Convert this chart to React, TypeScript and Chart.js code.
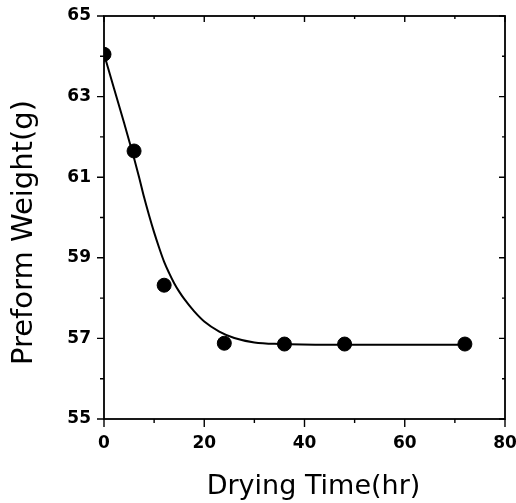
import React, { useEffect, useRef } from "react";
import { Chart, registerables } from "chart.js";

Chart.register(...registerables);

// Measured data points
const dryingTime = [0, 6, 12, 24, 36, 48, 72];
const preformWeight = [64.05, 61.65, 58.32, 56.88, 56.86, 56.86, 56.86];

// Fitted curve
const fitTime = [0, 2, 4, 6, 7, 8, 9, 10, 11, 12, 13, 14, 15, 16, 18, 20, 23, 26, 30, 35, 45, 60, 72];
const fitWeight = [64.06, 63.2, 62.35, 61.47, 61.0, 60.5, 60.05, 59.63, 59.25, 58.9, 58.62, 58.37, 58.16, 57.98, 57.67, 57.42, 57.17, 57.01, 56.9, 56.86, 56.84, 56.84, 56.84];

const xMin = 0;
const xMax = 80;
const xStep = 10;
const xLabelEvery = 20;
const yMin = 55;
const yMax = 65;
const yStep = 1;
const yLabelEvery = 2;

const xTitle = "Drying Time(hr)";
const yTitle = "Preform Weight(g)";

const FONT = "'DejaVu Sans', 'Liberation Sans', Arial, sans-serif";

const isMajor = (v: number, every: number, base: number) =>
  Math.abs(((v - base) / every) - Math.round((v - base) / every)) < 1e-6;

const frameTicks = {
  id: "frameTicks",
  afterDraw(chart: any) {
    const { ctx, chartArea } = chart;
    const { left, right, top, bottom } = chartArea;
    const xs = chart.scales.x;
    const ys = chart.scales.y;
    ctx.save();
    ctx.strokeStyle = "#000";
    ctx.lineWidth = 1.8;
    ctx.strokeRect(left, top, right - left, bottom - top);
    ctx.lineWidth = 1.4;
    ctx.beginPath();
    xs.ticks.forEach((t: any) => {
      const px = xs.getPixelForValue(t.value);
      const maj = isMajor(t.value, xLabelEvery, xMin);
      ctx.moveTo(px, bottom);
      ctx.lineTo(px, bottom + (maj ? 8 : 4));
      ctx.moveTo(px, top);
      ctx.lineTo(px, top + (maj ? 6 : 3));
    });
    ys.ticks.forEach((t: any) => {
      const py = ys.getPixelForValue(t.value);
      const maj = isMajor(t.value, yLabelEvery, yMin);
      ctx.moveTo(left, py);
      ctx.lineTo(left - (maj ? 7 : 4), py);
      ctx.moveTo(right, py);
      ctx.lineTo(right - (maj ? 6 : 3), py);
    });
    ctx.stroke();

    // axis titles
    ctx.fillStyle = "#000";
    ctx.textAlign = "center";
    ctx.textBaseline = "alphabetic";
    ctx.font = `27px ${FONT}`;
    ctx.fillText(xTitle, (left + right) / 2 + 9, 494);
    ctx.save();
    ctx.translate(32, (top + bottom) / 2 + 15);
    ctx.rotate(-Math.PI / 2);
    ctx.font = `29px ${FONT}`;
    ctx.fillText(yTitle, 0, 0);
    ctx.restore();
    ctx.restore();
  },
};

export default function App() {
  const ref = useRef<HTMLCanvasElement | null>(null);

  useEffect(() => {
    document.body.style.margin = "0";
    if (!ref.current) return;
    const chart = new Chart(ref.current, {
      type: "scatter",
      data: {
        datasets: [
          {
            type: "line",
            label: "fit",
            data: fitTime.map((x, i) => ({ x, y: fitWeight[i] })),
            borderColor: "#000",
            borderWidth: 2,
            pointRadius: 0,
            cubicInterpolationMode: "monotone",
            fill: false,
            order: 2,
          } as any,
          {
            type: "scatter",
            label: "data",
            data: dryingTime.map((x, i) => ({ x, y: preformWeight[i] })),
            backgroundColor: "#000",
            borderColor: "#000",
            pointRadius: 7,
            pointHoverRadius: 7,
            order: 1,
          },
        ],
      },
      plugins: [frameTicks],
      options: {
        animation: false,
        responsive: false,
        maintainAspectRatio: false,
        events: [],
        layout: { padding: { top: 16, right: 11, left: 0, bottom: 0 } },
        plugins: {
          legend: { display: false },
          tooltip: { enabled: false },
          title: { display: false },
        },
        scales: {
          x: {
            type: "linear",
            min: xMin,
            max: xMax,
            afterFit: (s: any) => {
              s.height = 84;
              s.paddingLeft = 0;
              s.paddingRight = 0;
            },
            ticks: {
              stepSize: xStep,
              autoSkip: false,
              maxRotation: 0,
              color: "#000",
              padding: 6,
              font: { family: FONT, size: 17, weight: "bold" },
              callback: (v: any) => (isMajor(Number(v), xLabelEvery, xMin) ? String(v) : ""),
            },
            grid: { display: true, drawOnChartArea: false, drawTicks: true, tickLength: 8, color: "rgba(0,0,0,0)" },
            border: { display: false },
            title: { display: false, text: xTitle },
          },
          y: {
            type: "linear",
            min: yMin,
            max: yMax,
            afterFit: (s: any) => {
              s.width = 104;
              s.paddingTop = 0;
              s.paddingBottom = 0;
            },
            ticks: {
              stepSize: yStep,
              autoSkip: false,
              color: "#000",
              padding: 6,
              font: { family: FONT, size: 17, weight: "bold" },
              callback: (v: any) => (isMajor(Number(v), yLabelEvery, yMin) ? String(v) : ""),
            },
            grid: { display: true, drawOnChartArea: false, drawTicks: true, tickLength: 7, color: "rgba(0,0,0,0)" },
            border: { display: false },
            title: { display: false, text: yTitle },
          },
        },
      },
    });
    return () => chart.destroy();
  }, []);

  return (
    <div style={{ position: "fixed", left: 0, top: 0, width: 516, height: 503, background: "#fff" }}>
      <canvas ref={ref} width={516} height={503} style={{ width: 516, height: 503 }} />
    </div>
  );
}
